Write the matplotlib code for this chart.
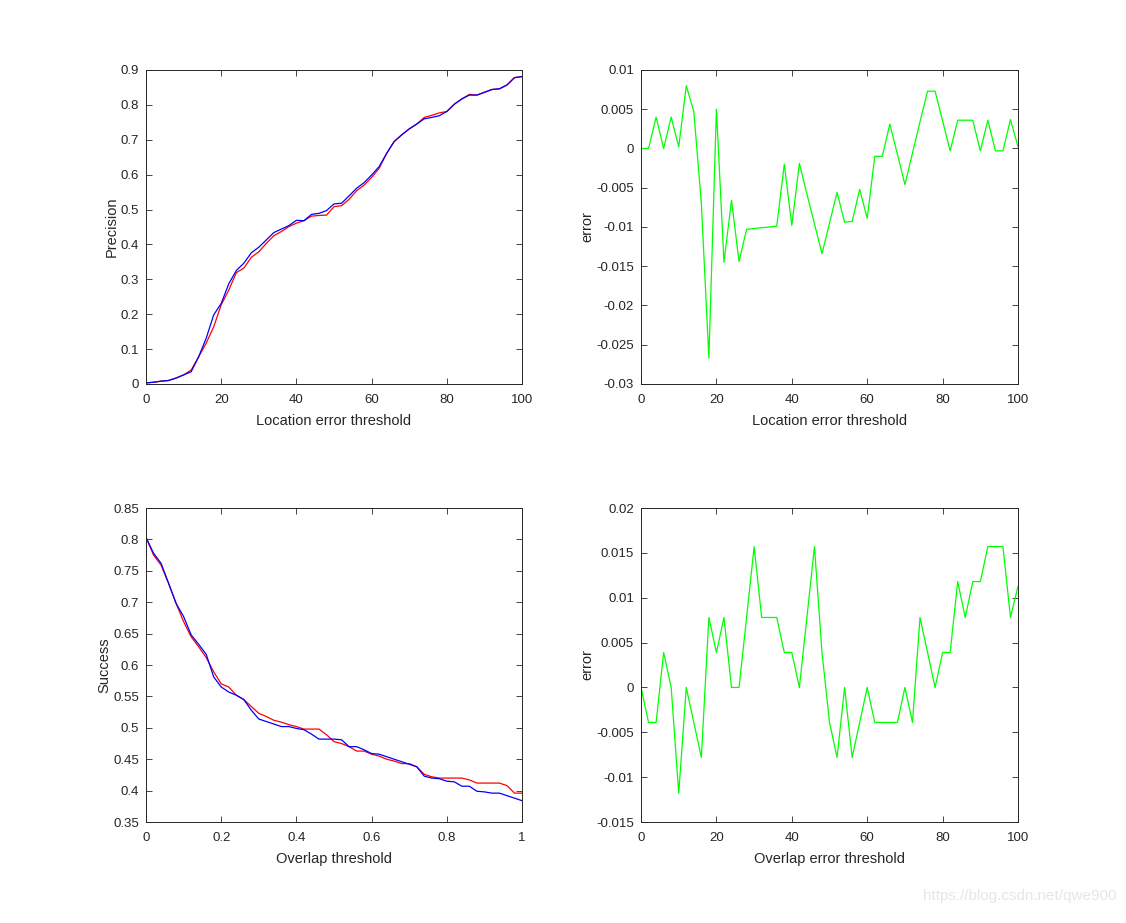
import numpy as np
import matplotlib.pyplot as plt
from matplotlib.ticker import FuncFormatter, MultipleLocator

plt.rcParams['font.family'] = ['Liberation Sans', 'DejaVu Sans']

# 閾値 (x軸)
loc_thr = np.arange(0, 101, 2)
ovl_thr = np.arange(0, 1.001, 0.02)

# precision (赤 / 青)
prec_red = [0.003, 0.005, 0.008, 0.010, 0.017, 0.026, 0.040, 0.078, 0.117, 0.164,
            0.227, 0.269, 0.319, 0.332, 0.363, 0.379, 0.403, 0.425, 0.437, 0.451,
            0.461, 0.468, 0.481, 0.483, 0.484, 0.508, 0.511, 0.529, 0.554, 0.570,
            0.592, 0.618, 0.661, 0.695, 0.714, 0.731, 0.745, 0.764, 0.770, 0.777,
            0.781, 0.802, 0.817, 0.830, 0.828, 0.836, 0.844, 0.846, 0.857, 0.878,
            0.881]
prec_blue = [0.003, 0.005, 0.008, 0.010, 0.017, 0.026, 0.035, 0.078, 0.131, 0.198,
             0.231, 0.287, 0.325, 0.346, 0.376, 0.392, 0.413, 0.434, 0.444, 0.454,
             0.469, 0.468, 0.486, 0.489, 0.497, 0.516, 0.518, 0.539, 0.561, 0.577,
             0.599, 0.623, 0.661, 0.695, 0.714, 0.731, 0.745, 0.760, 0.764, 0.769,
             0.781, 0.802, 0.817, 0.828, 0.828, 0.836, 0.844, 0.846, 0.857, 0.878,
             0.881]

# precision error
prec_err = [0.0, 0.0, 0.004, 0.0, 0.004, 0.0002, 0.008, 0.0047, -0.007, -0.0267,
            0.005, -0.0145, -0.0066, -0.0144, -0.0103, -0.0102, -0.0101, -0.0100, -0.0099, -0.002,
            -0.0098, -0.0019, -0.0058, -0.0096, -0.0134, -0.0095, -0.0056, -0.0094, -0.0093, -0.0052,
            -0.0089, -0.0010, -0.0010, 0.0031, -0.0007, -0.0046, -0.0006, 0.0034, 0.0073, 0.0073,
            0.0035, -0.0003, 0.0036, 0.0036, 0.0036, -0.0003, 0.0036, -0.0003, -0.0003, 0.0037,
            0.0002]

# success (赤 / 青)
succ_red = [0.803, 0.775, 0.759, 0.730, 0.698, 0.669, 0.645, 0.629, 0.612, 0.589,
            0.570, 0.565, 0.552, 0.545, 0.534, 0.523, 0.518, 0.512, 0.509, 0.505,
            0.502, 0.498, 0.498, 0.498, 0.489, 0.478, 0.475, 0.470, 0.463, 0.463,
            0.458, 0.455, 0.450, 0.447, 0.443, 0.443, 0.438, 0.426, 0.422, 0.420,
            0.420, 0.420, 0.420, 0.417, 0.412, 0.412, 0.412, 0.412, 0.408, 0.396,
            0.396]
succ_blue = [0.803, 0.778, 0.762, 0.730, 0.698, 0.677, 0.648, 0.633, 0.617, 0.581,
             0.565, 0.557, 0.552, 0.545, 0.528, 0.514, 0.510, 0.506, 0.502, 0.502,
             0.499, 0.497, 0.490, 0.482, 0.482, 0.482, 0.481, 0.470, 0.470, 0.465,
             0.459, 0.458, 0.454, 0.450, 0.446, 0.442, 0.438, 0.423, 0.420, 0.419,
             0.415, 0.414, 0.407, 0.407, 0.399, 0.398, 0.396, 0.396, 0.392, 0.388,
             0.384]

# overlap error
ovl_err = [0.0, -0.0039, -0.0039, 0.0039, 0.0, -0.0118, 0.0, -0.0039, -0.0078, 0.0078,
           0.0039, 0.0078, 0.0, 0.0, 0.0078, 0.0157, 0.0078, 0.0078, 0.0078, 0.0039,
           0.0039, 0.0, 0.0078, 0.0157, 0.0039, -0.0039, -0.0078, 0.0, -0.0078, -0.0039,
           0.0, -0.0039, -0.0039, -0.0039, -0.0039, 0.0, -0.0039, 0.0078, 0.0039, 0.0,
           0.0039, 0.0039, 0.0118, 0.0078, 0.0118, 0.0118, 0.0157, 0.0157, 0.0157, 0.0078,
           0.0113]

fs = 9.5
fmt = FuncFormatter(lambda v, p: '%g' % (round(v, 4) + 0.0))


def style(ax, xlim, ylim, xstep, ystep, xlabel, ylabel):
    ax.set_xlim(xlim)
    ax.set_ylim(ylim)
    ax.xaxis.set_major_locator(MultipleLocator(xstep))
    ax.yaxis.set_major_locator(MultipleLocator(ystep))
    ax.xaxis.set_major_formatter(fmt)
    ax.yaxis.set_major_formatter(fmt)
    ax.tick_params(direction='in', top=True, right=True, length=4, width=0.6,
                   labelsize=fs, colors='#262626', pad=5)
    ax.tick_params(axis='x', pad=7)
    for s in ax.spines.values():
        s.set_color('#262626')
        s.set_linewidth(0.7)
    ax.set_xlabel(xlabel, fontsize=fs + 1, color='#262626', labelpad=6)
    ax.set_ylabel(ylabel, fontsize=fs + 1, color='#262626', labelpad=1.5)


fig = plt.figure(figsize=(11.26, 9.23), dpi=100)

ax = fig.add_axes([0.1297, 0.5840, 0.3339, 0.3402])
ax.plot(loc_thr, prec_red, c='r', lw=0.9)
ax.plot(loc_thr, prec_blue, c='b', lw=0.9)
style(ax, (0, 100), (0, 0.9), 20, 0.1, 'Location error threshold', 'Precision')

bx = fig.add_axes([0.5693, 0.5840, 0.3348, 0.3402])
bx.plot(loc_thr, prec_err, c='#00ff00', lw=0.9)
style(bx, (0, 100), (-0.03, 0.01), 20, 0.005, 'Location error threshold', 'error')

cx = fig.add_axes([0.1297, 0.1094, 0.3339, 0.3402])
cx.plot(ovl_thr, succ_red, c='r', lw=0.9)
cx.plot(ovl_thr, succ_blue, c='b', lw=0.9)
style(cx, (0, 1), (0.35, 0.85), 0.2, 0.05, 'Overlap threshold', 'Success')

dx = fig.add_axes([0.5693, 0.1094, 0.3348, 0.3402])
dx.plot(loc_thr, ovl_err, c='#00ff00', lw=0.9)
style(dx, (0, 100), (-0.015, 0.02), 20, 0.005, 'Overlap error threshold', 'error')

fig.text(0.992, 0.022, 'https://blog.csdn.net/qwe900', ha='right', va='bottom',
         fontsize=11, color='#e6e6e6')

fig.savefig('out.png', dpi=100)
